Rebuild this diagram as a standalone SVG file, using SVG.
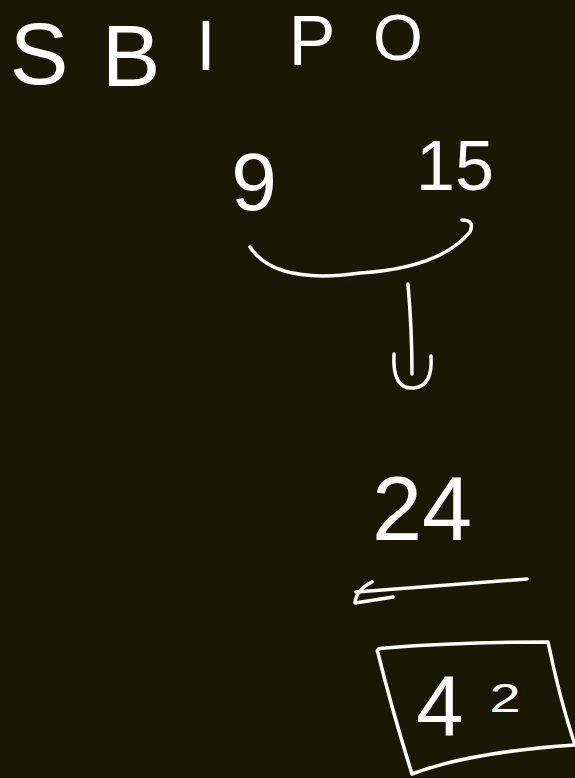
<svg xmlns="http://www.w3.org/2000/svg" width="575" height="778" viewBox="0 0 575 778">
<style>
.t{font-family:"Liberation Sans",Arial,sans-serif;fill:#ffffff;text-anchor:middle}
.s{fill:none;stroke:#ffffff;stroke-width:3.5;stroke-linecap:round;stroke-linejoin:round}
</style>
<rect width="575" height="778" fill="#191803"/>
<g id="title">
<text class="t" x="39" y="84" font-size="88">S</text>
<text class="t" x="131" y="86" font-size="88">B</text>
<text class="t" x="206" y="70" font-size="70">I</text>
<text class="t" x="312" y="65" font-size="70">P</text>
<text class="t" x="398" y="60" font-size="64">O</text>
</g>
<g id="n9"><text class="t" x="254" y="210" font-size="82">9</text></g>
<g id="n15"><text class="t" x="455" y="190" font-size="70">15</text></g>
<g id="n24"><text class="t" x="422" y="540" font-size="90">24</text></g>
<g id="n42">
<path class="s" d="M378,653 Q375,648 385,648 Q460,642 548,642 Q560,700 575,745 Q470,752 412,774 Q392,710 378,653 Z"/>
<text class="t" x="440" y="735" font-size="85">4</text>
<text class="t" x="505" y="712" font-size="40" transform="translate(505 712) scale(1.4 1) translate(-505 -712)">2</text>
</g>
<g id="connectors">
<path class="s" d="M250,247 Q275,285 360,273 Q440,268 470,232 Q475,220 462,220"/>
<path class="s" d="M408,284 Q412,330 412,374"/>
<path class="s" d="M394,354 Q392,390 414,388 Q433,386 431,356"/>
<path class="s" d="M356,592 L527,579"/>
<path class="s" d="M372,582 Q356,590 355,603 Q375,600 393,597"/>
</g>
</svg>
